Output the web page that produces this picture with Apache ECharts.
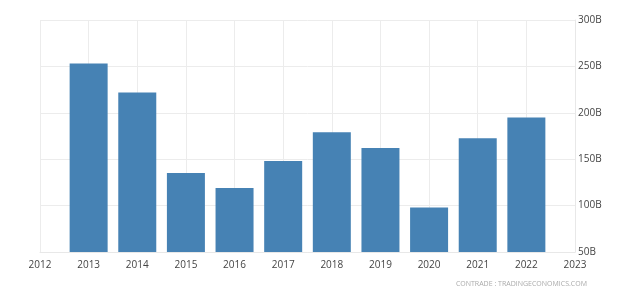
<!DOCTYPE html>
<html>
<head>
<meta charset="utf-8">
<script src="https://cdn.jsdelivr.net/npm/echarts@6/dist/echarts.min.js"></script>
<style>
html,body{margin:0;padding:0;background:#fff;}
#chart{width:620px;height:305px;}
</style>
</head>
<body>
<div id="chart"></div>
<script>
const years = [2013, 2014, 2015, 2016, 2017, 2018, 2019, 2020, 2021, 2022];
const values = [253, 222, 135, 119, 148, 179, 162, 98, 172.5, 195];
const yTicks = [50, 100, 150, 200, 250, 300];
const sourceText = 'CONTRADE : TRADINGECONOMICS.COM';

const chart = echarts.init(document.getElementById('chart'));
chart.setOption({
  animation: false,
  backgroundColor: '#fff',
  grid: { left: 40, right: 45, top: 20, bottom: 53 },
  xAxis: {
    type: 'value',
    min: 2012, max: 2023, interval: 1,
    axisLine: { show: true, lineStyle: { color: '#e8e8e8' } },
    axisTick: { show: false },
    axisLabel: { color: '#444', fontSize: 10, fontFamily: 'Open Sans', margin: 8, formatter: v => String(v) },
    splitLine: { show: true, lineStyle: { color: '#ececec', width: 1 } }
  },
  yAxis: {
    type: 'value', position: 'right',
    min: yTicks[0], max: yTicks[yTicks.length - 1], interval: 50,
    axisLine: { show: true, lineStyle: { color: '#e8e8e8' } },
    axisTick: { show: false },
    axisLabel: { color: '#444', fontSize: 10, fontFamily: 'Open Sans', margin: 3, formatter: v => v + 'B' },
    splitLine: { show: true, lineStyle: { color: '#ececec', width: 1 } }
  },
  series: [{
    type: 'bar',
    data: years.map((y, i) => [y, values[i]]),
    barWidth: 38,
    itemStyle: { color: '#4682b4' }
  }],
  graphic: [{
    type: 'text', right: 33, top: 280,
    style: { text: sourceText, fill: '#aaa', fontSize: 7, fontFamily: 'Open Sans' }
  }]
});
</script>
</body>
</html>
